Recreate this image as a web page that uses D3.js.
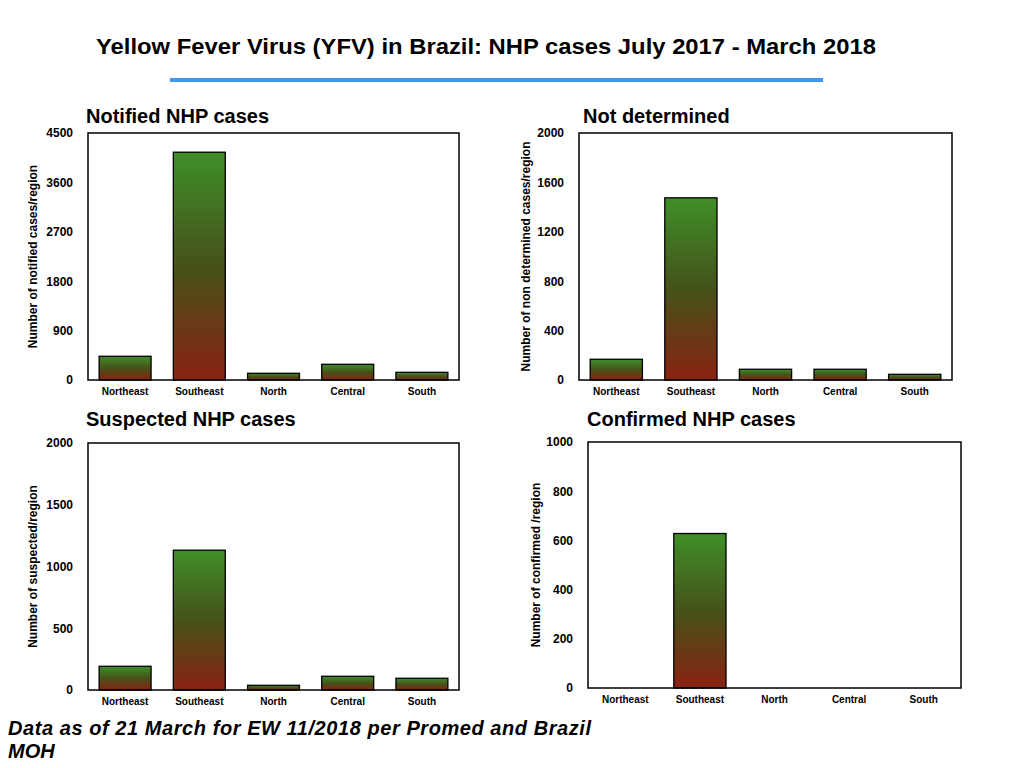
<!DOCTYPE html>
<html>
<head>
<meta charset="utf-8">
<script src="https://cdn.jsdelivr.net/npm/d3@7"></script>
<style>
body { margin: 0; background: #fff; }
text { font-family: "Liberation Sans", Arial, Helvetica, sans-serif; }
</style>
</head>
<body>
<svg id="chart" width="1024" height="768"></svg>
<script>
// regions, same order in every panel
var regions = ["Northeast", "Southeast", "North", "Central", "South"];

var notified = [432, 4150, 122, 286, 140];
var notDetermined = [168, 1475, 87, 87, 46];
var suspected = [192, 1132, 38, 111, 95];
var confirmed = [0, 628, 0, 0, 0];

var notifiedTicks = [0, 900, 1800, 2700, 3600, 4500];
var notDeterminedTicks = [0, 400, 800, 1200, 1600, 2000];
var suspectedTicks = [0, 500, 1000, 1500, 2000];
var confirmedTicks = [0, 200, 400, 600, 800, 1000];

var panels = [
	{title: "Notified NHP cases", ylab: "Number of notified cases/region", values: notified, ticks: notifiedTicks,
	 x0: 88, x1: 459, y0: 133, y1: 380, tx: 86, ty: 123, lx: 33},
	{title: "Not determined", ylab: "Number of non determined cases/region", values: notDetermined, ticks: notDeterminedTicks,
	 x0: 579, x1: 952, y0: 133, y1: 380, tx: 583, ty: 123, lx: 526},
	{title: "Suspected NHP cases", ylab: "Number of suspected/region", values: suspected, ticks: suspectedTicks,
	 x0: 88, x1: 459, y0: 443, y1: 690, tx: 86, ty: 426, lx: 33},
	{title: "Confirmed NHP cases", ylab: "Number of confirmed /region", values: confirmed, ticks: confirmedTicks,
	 x0: 588, x1: 961, y0: 442, y1: 688, tx: 587, ty: 426, lx: 536}
];

var svg = d3.select("#chart");

// green on top fading to red at the bottom, per bar
var grad = svg.append("defs").append("linearGradient")
	.attr("id", "barGrad")
	.attr("x1", 0).attr("y1", 0).attr("x2", 0).attr("y2", 1);
grad.append("stop").attr("offset", "0%").attr("stop-color", "#3f8f28");
grad.append("stop").attr("offset", "50%").attr("stop-color", "#45521a");
grad.append("stop").attr("offset", "100%").attr("stop-color", "#8a2212");

svg.append("text")
	.attr("x", 486).attr("y", 54)
	.attr("text-anchor", "middle")
	.attr("textLength", 780).attr("lengthAdjust", "spacingAndGlyphs")
	.style("font-size", "22px").style("font-weight", "bold")
	.text("Yellow Fever Virus (YFV) in Brazil: NHP cases July 2017 - March 2018");

svg.append("line")
	.attr("x1", 170).attr("x2", 823)
	.attr("y1", 80).attr("y2", 80)
	.attr("stroke", "#3f97ee").attr("stroke-width", 4);

panels.forEach(function(p){
	var x = d3.scaleBand().domain(regions).range([p.x0, p.x1]).paddingInner(0.3).paddingOuter(0.15);
	var y = d3.scaleLinear().domain([0, d3.max(p.ticks)]).range([p.y1, p.y0]);
	var g = svg.append("g");

	g.append("text")
		.attr("x", p.tx).attr("y", p.ty)
		.style("font-size", "20px").style("font-weight", "bold")
		.text(p.title);

	g.selectAll("rect.bar")
		.data(p.values.map(function(v, i){ return {r: regions[i], v: v}; }).filter(function(d){ return d.v > 0; }))
		.enter().append("rect")
		.attr("class", "bar")
		.attr("x", function(d){ return x(d.r); })
		.attr("width", x.bandwidth())
		.attr("y", function(d){ return y(d.v); })
		.attr("height", function(d){ return y(0) - y(d.v); })
		.attr("fill", "url(#barGrad)")
		.attr("stroke", "#000").attr("stroke-width", 1.3);

	g.append("rect")
		.attr("x", p.x0).attr("y", p.y0)
		.attr("width", p.x1 - p.x0).attr("height", p.y1 - p.y0)
		.attr("fill", "none").attr("stroke", "#000").attr("stroke-width", 1.5);

	var ya = d3.axisLeft(y).tickValues(p.ticks).tickSize(0).tickPadding(15).tickFormat(d3.format("d"));
	var yg = g.append("g").attr("transform", "translate(" + p.x0 + ",0)").call(ya);
	yg.select(".domain").remove();
	yg.selectAll("text").style("font-size", "12px").style("font-weight", "bold").attr("fill", "#000");

	var xa = d3.axisBottom(x).tickSize(0).tickPadding(8);
	var xg = g.append("g").attr("transform", "translate(0," + p.y1 + ")").call(xa);
	xg.select(".domain").remove();
	xg.selectAll("text").style("font-size", "10px").style("font-weight", "bold").attr("fill", "#000");

	g.append("text")
		.attr("transform", "translate(" + p.lx + "," + ((p.y0 + p.y1) / 2) + ") rotate(-90)")
		.attr("text-anchor", "middle")
		.attr("dy", "0.35em")
		.style("font-size", "12px").style("font-weight", "bold")
		.text(p.ylab);
});

// footnote
svg.append("text")
	.attr("x", 8).attr("y", 735)
	.attr("textLength", 583).attr("lengthAdjust", "spacing")
	.style("font-size", "20px").style("font-weight", "bold").style("font-style", "italic")
	.text("Data as of 21 March for EW 11/2018 per Promed and Brazil");
svg.append("text")
	.attr("x", 8).attr("y", 758)
	.style("font-size", "20px").style("font-weight", "bold").style("font-style", "italic")
	.text("MOH");
</script>
</body>
</html>
